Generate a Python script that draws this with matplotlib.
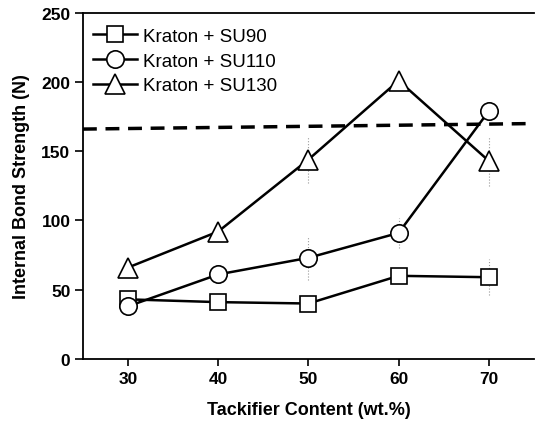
import matplotlib
matplotlib.use("Agg")
import matplotlib.pyplot as plt

plt.rcParams['font.family'] = ['Liberation Sans', 'DejaVu Sans']

content = [30, 40, 50, 60, 70]
su90 = [43, 41, 40, 60, 59]
su110 = [38, 61, 73, 91, 179]
su130 = [66, 92, 144, 201, 143]
# faint error bars (half-width) where visible
su90_err = [0, 0, 0, 0, 13]
su110_err = [0, 0, 16, 11, 0]
su130_err = [0, 0, 17, 0, 18]
ref_x = [25, 75]
ref_y = [166, 170]

fig = plt.figure(figsize=(5.35, 4.31), dpi=100)
ax = fig.add_axes([0.155, 0.165, 0.843, 0.803])

for vals, err in [(su90, su90_err), (su110, su110_err), (su130, su130_err)]:
    for x, v, e in zip(content, vals, err):
        if e:
            ax.plot([x, x], [v - e, v + e], color='0.6', lw=0.8, ls=':', zorder=1)

ax.plot(ref_x, ref_y, color='k', lw=2.5, ls=(0, (4, 2.5)), zorder=2)

ax.plot(content, su90, '-', color='k', lw=1.8, marker='s', ms=11,
        mfc='white', mec='k', mew=1.2, label='Kraton + SU90', zorder=3)
ax.plot(content, su110, '-', color='k', lw=1.8, marker='o', ms=12.5,
        mfc='white', mec='k', mew=1.2, label='Kraton + SU110', zorder=3)
ax.plot(content, su130, '-', color='k', lw=1.8, marker='^', ms=14.5,
        mfc='white', mec='k', mew=1.2, label='Kraton + SU130', zorder=3)

ax.set_xlim(25, 75)
ax.set_ylim(0, 250)
ax.set_xticks(content)
ax.set_yticks([0, 50, 100, 150, 200, 250])
ax.tick_params(direction='out', length=5, width=1.2, labelsize=12.5)
ax.tick_params(axis='y', length=6, pad=3)
for lbl in ax.get_xticklabels() + ax.get_yticklabels():
    lbl.set_fontweight('bold')
for s in ax.spines.values():
    s.set_linewidth(1.3)
ax.spines['right'].set_visible(False)

ax.set_xlabel('Tackifier Content (wt.%)', fontsize=13, fontweight='bold', labelpad=11)
ax.set_ylabel('Internal Bond Strength (N)', fontsize=13, fontweight='bold', labelpad=8)

ax.legend(loc='upper left', frameon=False, fontsize=13.5, handlelength=2.3,
          handletextpad=0.35, labelspacing=0.4, borderaxespad=0.4,
          bbox_to_anchor=(-0.01, 1.0))

fig.savefig('out.png', dpi=100)
